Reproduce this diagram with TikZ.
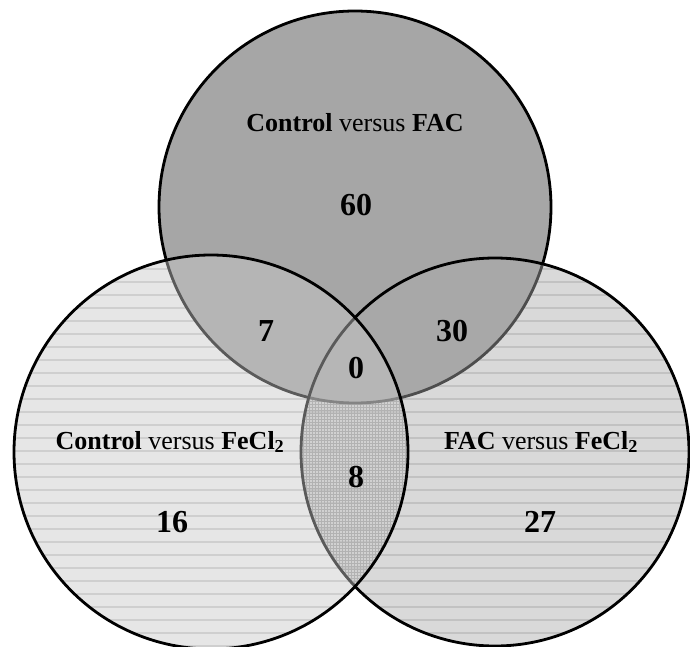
\documentclass[tikz,border=0pt]{standalone}
\usepackage{fontspec}
\setmainfont{Liberation Serif}
\usepackage{tikz}
\usetikzlibrary{patterns}

\definecolor{topfill}{gray}{0.65}
\definecolor{leftfill}{gray}{0.784}
\definecolor{rightfill}{gray}{0.67}
\definecolor{hatch}{gray}{0.84}
\definecolor{mesh}{gray}{0.6}

\begin{document}
\begin{tikzpicture}[
    x=1pt, y=-1pt,
    ring/.style={draw=black, line width=2.8pt},
    lbl/.style={font=\fontsize{26}{30}\selectfont, inner sep=0pt, anchor=base},
    num/.style={font=\fontsize{32}{36}\selectfont\bfseries, inner sep=0pt, anchor=base}
  ]
  \useasboundingbox (0,0) rectangle (690,647);
  \coordinate (ct) at (355,207);
  \coordinate (cl) at (211,452);
  \coordinate (cr) at (495,452);

  % horizontal hatching in the two lower sets
  \begin{scope}
    \clip (cl) circle[radius=197] (cr) circle[radius=194];
    \foreach \y in {256,269,...,650}
      \draw[hatch, line width=1.1pt] (0,\y) -- (690,\y);
  \end{scope}
  % fine mesh where the lower sets overlap
  \begin{scope}
    \clip (cl) circle[radius=197];
    \clip (cr) circle[radius=194];
    \fill[pattern=grid, pattern color=mesh] (0,250) rectangle (690,647);
  \end{scope}

  % the three sets
  \path[ring, fill=topfill] (ct) circle[radius=196];
  \path[ring, fill=rightfill, fill opacity=0.45] (cr) circle[radius=194];
  \path[ring, fill=leftfill, fill opacity=0.45] (cl) circle[radius=197];

  % set names
  \node[lbl] (fac) at (355,132) {\textbf{Control} versus \textbf{FAC}};
  \node[lbl] (fecl) at (170,449) {\textbf{Control} versus \textbf{FeCl\textsubscript{2}}};
  \node[lbl] (facfecl) at (541,449) {\textbf{FAC} versus \textbf{FeCl\textsubscript{2}}};

  % counts
  \node[num] (n60) at (356,215) {60};
  \node[num] (n7) at (266,341) {7};
  \node[num] (n30) at (452,341) {30};
  \node[num] (n0) at (356,378) {0};
  \node[num] (n8) at (356,487) {8};
  \node[num] (n16) at (172,532) {16};
  \node[num] (n27) at (540,532) {27};
\end{tikzpicture}
\end{document}
